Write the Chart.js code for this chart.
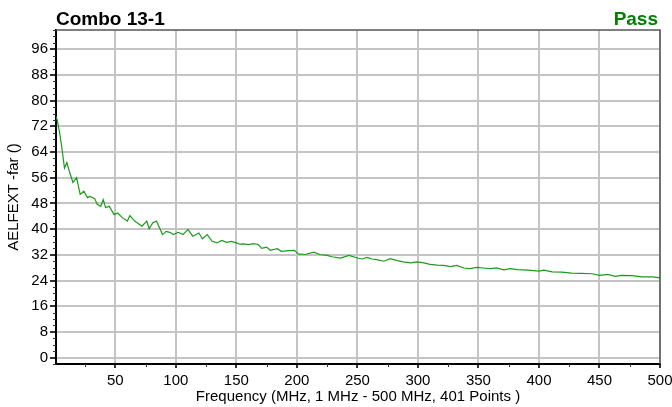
<!DOCTYPE html>
<html>
<head>
<meta charset="utf-8">
<script src="https://cdn.jsdelivr.net/npm/chart.js@4/dist/chart.umd.min.js"></script>
<style>
  body { margin: 0; background: #fff; }
  canvas { display: block; }
</style>
</head>
<body>
<canvas id="chart" width="672" height="407"></canvas>
<script>
// Chart texts
const chartTitle = "Combo 13-1";
const passText = "Pass";
const xTitle = "Frequency (MHz, 1 MHz - 500 MHz, 401 Points )";
const yTitle = "AELFEXT -far ()";

// Tick labels
const xTicks = [50, 100, 150, 200, 250, 300, 350, 400, 450, 500];
const yTicks = [0, 8, 16, 24, 32, 40, 48, 56, 64, 72, 80, 88, 96];

const freqs = [
  1, 2, 4, 6, 8, 10, 12, 15, 18, 21, 24, 27, 29, 33, 35, 38, 40, 42, 45, 49,
  52, 56, 60, 62, 66, 68, 72, 76, 78, 81, 84, 89, 92, 95, 98, 102, 106, 110, 114, 119,
  122, 126, 130, 134, 138, 142, 146, 150, 153, 156, 160, 164, 168, 171, 175, 178, 184, 187, 193, 198,
  201, 207, 214, 219, 225, 229, 236, 243, 250, 254, 258, 262, 266, 272, 277, 283, 288, 294, 299, 305,
  310, 316, 321, 327, 332, 338, 343, 349, 354, 360, 365, 371, 376, 382, 391, 400, 404, 411, 419, 427,
  435, 444, 450, 457, 463, 468, 477, 485, 494, 500
];
const values = [
  75, 74, 70, 64.8, 59, 60.7, 58, 54.5, 56, 50.8, 51.8, 49.8, 50.2, 49.5, 47.7, 47.1, 49.2, 46.7, 47.1, 44.5,
  45, 43.5, 42.5, 44.2, 42.5, 42, 40.9, 42.5, 40.1, 42, 42.5, 38.3, 39.3, 39, 38.3, 39, 38.3, 39.9, 37.8, 38.8,
  37, 38.3, 36.2, 35.7, 36.5, 35.9, 36.2, 35.7, 35.3, 35.4, 35.2, 35.5, 35.2, 34, 34.4, 33.4, 33.9, 33.1, 33.3, 33.4,
  32.3, 32.1, 32.8, 32.1, 31.8, 31.4, 31, 31.8, 31, 30.7, 31.2, 30.7, 30.5, 30, 30.8, 30.2, 29.8, 29.5, 29.8, 29.5,
  29, 28.8, 28.7, 28.3, 28.7, 27.9, 27.7, 28.1, 27.9, 27.7, 27.9, 27.3, 27.7, 27.4, 27.2, 26.9, 27.2, 26.7, 26.6, 26.3,
  26.2, 26.1, 25.6, 25.9, 25.3, 25.6, 25.5, 25.1, 25.1, 24.8
];

const FONT = "'Liberation Sans', Arial, sans-serif";

// no extra room for labels hanging over the plot ends
function noOverhang(s) {
  s.paddingLeft = 0;
  s.paddingRight = 0;
  s.paddingTop = 0;
  s.paddingBottom = 0;
}

// draws titles, minor ticks and the top/right frame
const decorPlugin = {
  id: "decor",
  afterDraw(chart) {
    const ctx = chart.ctx;
    const area = chart.chartArea;
    const xs = chart.scales.x;
    const ys = chart.scales.y;
    ctx.save();

    // frame on top and right
    ctx.strokeStyle = "#555";
    ctx.lineWidth = 1.5;
    ctx.beginPath();
    ctx.moveTo(area.left, area.top);
    ctx.lineTo(area.right, area.top);
    ctx.lineTo(area.right, area.bottom);
    ctx.stroke();

    // minor ticks
    ctx.strokeStyle = "#333";
    ctx.lineWidth = 1;
    ctx.beginPath();
    for (let v = 25; v <= 500; v += 50) {
      const px = Math.round(xs.getPixelForValue(v)) + 0.5;
      ctx.moveTo(px, area.bottom);
      ctx.lineTo(px, area.bottom + 3);
    }
    for (let v = -2; v <= 102; v += 2) {
      if (v % 8 === 0) continue;
      const py = Math.round(ys.getPixelForValue(v)) + 0.5;
      ctx.moveTo(area.left - 3, py);
      ctx.lineTo(area.left, py);
    }
    ctx.stroke();

    // titles
    ctx.fillStyle = "#000";
    ctx.font = "bold 19px " + FONT;
    ctx.textAlign = "left";
    ctx.textBaseline = "alphabetic";
    ctx.fillText(chartTitle, 56, 25);
    ctx.fillStyle = "#008000";
    ctx.textAlign = "right";
    ctx.fillText(passText, 658, 25);

    ctx.fillStyle = "#000";
    ctx.font = "15px " + FONT;
    ctx.textAlign = "center";
    ctx.fillText(xTitle, (area.left + area.right) / 2, 401);

    ctx.translate(14, (area.top + area.bottom) / 2);
    ctx.rotate(-Math.PI / 2);
    ctx.textBaseline = "middle";
    ctx.fillText(yTitle, 0, 0);
    ctx.restore();
  }
};

new Chart(document.getElementById("chart"), {
  type: "line",
  data: {
    datasets: [{
      data: freqs.map((f, i) => ({ x: f, y: values[i] })),
      borderColor: "#1c9a1c",
      borderWidth: 1.2,
      pointRadius: 0,
      tension: 0,
      fill: false
    }]
  },
  options: {
    responsive: false,
    animation: false,
    devicePixelRatio: 1,
    layout: { padding: { top: 30, right: 12, left: 0, bottom: 0 } },
    plugins: {
      legend: { display: false },
      tooltip: { enabled: false }
    },
    scales: {
      x: {
        type: "linear",
        min: 1,
        max: 500,
        afterBuildTicks: (s) => { s.ticks = xTicks.map(v => ({ value: v })); },
        afterFit: (s) => { s.height = 43; noOverhang(s); },
        grid: { color: "#c4c4c4", lineWidth: 2, tickLength: 4, tickColor: "#333" },
        border: { color: "#000", width: 2 },
        ticks: { color: "#000", font: { family: FONT, size: 15 }, padding: 4, maxRotation: 0 }
      },
      y: {
        min: -2,
        max: 102,
        afterBuildTicks: (s) => { s.ticks = yTicks.map(v => ({ value: v })); },
        afterFit: (s) => { s.width = 56; noOverhang(s); },
        grid: { color: "#c4c4c4", lineWidth: 2, tickLength: 6, tickColor: "#333" },
        border: { color: "#000", width: 2 },
        ticks: { color: "#000", font: { family: FONT, size: 15 }, padding: 2 }
      }
    }
  },
  plugins: [decorPlugin]
});
</script>
</body>
</html>
